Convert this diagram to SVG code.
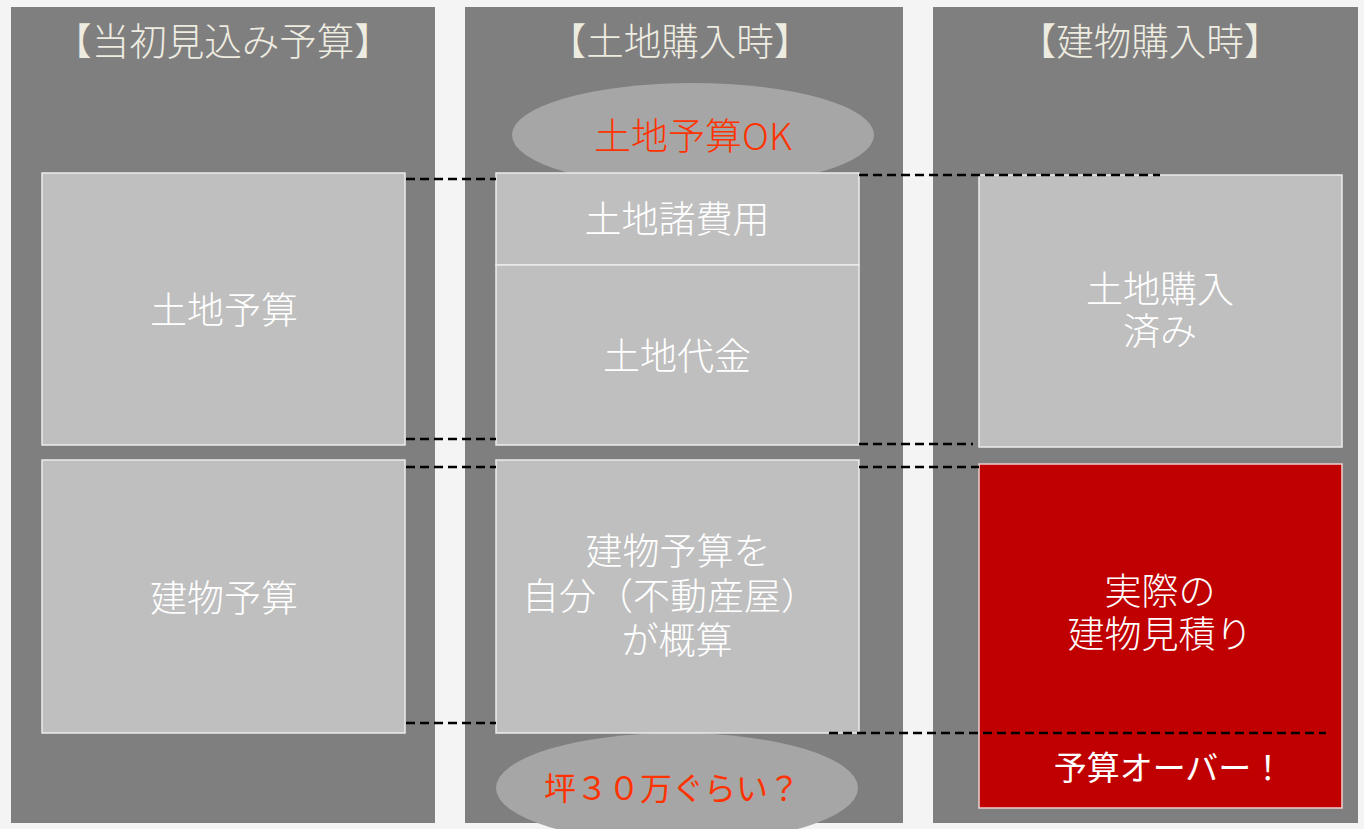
<svg xmlns="http://www.w3.org/2000/svg" width="1364" height="829" viewBox="0 0 1364 829">
<style>
.col{fill:#7f7f7f}
.box{fill:#bfbfbf;stroke:#ececec;stroke-width:1.5}
.red{fill:#c00000;stroke:#f0d0d0;stroke-width:1.5}
.ell{fill:#a6a6a6}
.hd{font-family:"Noto Sans CJK JP",sans-serif;font-size:37.5px;font-weight:300;fill:#eeece1;text-anchor:middle}
.t{font-family:"Noto Sans CJK JP",sans-serif;font-size:37px;font-weight:300;fill:#ffffff;text-anchor:middle}
.o{font-family:"Noto Sans CJK JP",sans-serif;font-size:34px;font-weight:300;fill:#ff3300;text-anchor:middle}
.dl{stroke:#000;stroke-width:2.6;stroke-dasharray:9 5;fill:none}
</style>
<rect width="1364" height="829" fill="#f4f4f4"/>
<g id="columns">
<rect class="col" x="11" y="7" width="424" height="816"/>
<rect class="col" x="465" y="7" width="438" height="816"/>
<rect class="col" x="933" y="7" width="425" height="816"/>
<text class="hd" x="223" y="55">【当初見込み予算】</text>
<text class="hd" x="680" y="55">【土地購入時】</text>
<text class="hd" x="1150" y="55">【建物購入時】</text>
</g>
<g id="ok-ellipse">
<ellipse class="ell" cx="693" cy="135" rx="181" ry="52"/>
<text class="o" x="693" y="150" style="font-size:37px">土地予算OK</text>
</g>
<g id="tsubo-ellipse">
<ellipse class="ell" cx="677" cy="788" rx="181" ry="55"/>
<text class="o" x="672" y="800" style="font-size:32px;font-weight:400">坪３０万ぐらい？</text>
</g>
<g id="land-budget">
<rect class="box" x="42" y="173" width="363" height="272"/>
<text class="t" x="224" y="324">土地予算</text>
</g>
<g id="building-budget">
<rect class="box" x="42" y="460" width="363" height="273"/>
<text class="t" x="224" y="612">建物予算</text>
</g>
<g id="land-fees">
<rect class="box" x="496" y="173" width="363" height="92"/>
<text class="t" x="677" y="233">土地諸費用</text>
</g>
<g id="land-price">
<rect class="box" x="496" y="265" width="363" height="180"/>
<text class="t" x="677" y="370">土地代金</text>
</g>
<g id="building-estimate">
<rect class="box" x="496" y="460" width="363" height="273"/>
<text class="t" x="678" y="565">建物予算を</text>
<text class="t" x="670" y="610">自分（不動産屋）</text>
<text class="t" x="677" y="654">が概算</text>
</g>
<g id="land-purchased">
<rect class="box" x="979" y="175" width="363" height="272"/>
<text class="t" x="1160" y="303">土地購入</text>
<text class="t" x="1160" y="345">済み</text>
</g>
<g id="actual-estimate">
<rect class="red" x="979" y="464" width="363" height="344"/>
<text class="t" x="1160" y="605">実際の</text>
<text class="t" x="1160" y="648">建物見積り</text>
<text class="t" x="1169" y="780" style="font-size:33px;font-weight:400">予算オーバー！</text>
</g>
<g id="connectors">
<line class="dl" x1="406" y1="179" x2="496" y2="179"/>
<line class="dl" x1="859" y1="175" x2="1160" y2="175"/>
<line class="dl" x1="406" y1="439" x2="496" y2="439"/>
<line class="dl" x1="859" y1="444" x2="973" y2="444"/>
<line class="dl" x1="406" y1="467" x2="496" y2="467"/>
<line class="dl" x1="859" y1="467" x2="979" y2="467"/>
<line class="dl" x1="406" y1="723" x2="496" y2="723"/>
<line class="dl" x1="829" y1="733" x2="1326" y2="733"/>
</g>
</svg>
